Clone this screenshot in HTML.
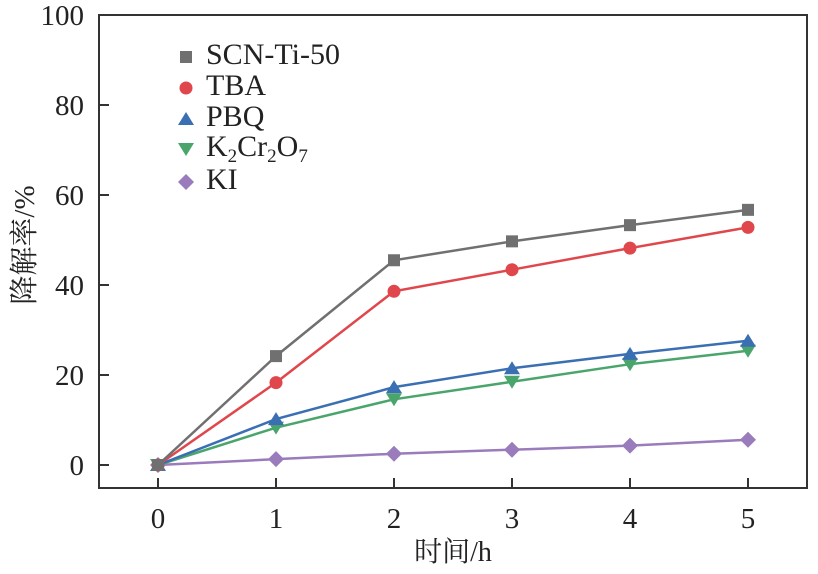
<!DOCTYPE html>
<html><head><meta charset="utf-8"><style>
body{margin:0;background:#fff;}
svg text{font-family:"Liberation Serif","Noto Serif CJK SC",serif;fill:#222;}
</style></head><body>
<svg width="818" height="569" xmlns="http://www.w3.org/2000/svg">
<g id="plot"></g>
</svg>
<script>
const categories=[0,1,2,3,4,5];
const yTicks=[0,20,40,60,80,100];
const scnValues=[0,24.2,45.5,49.7,53.3,56.7];
const tbaValues=[0,18.3,38.6,43.4,48.2,52.8];
const pbqValues=[0,10.2,17.3,21.5,24.7,27.6];
const k2cr2o7Values=[0,8.3,14.6,18.5,22.4,25.4];
const kiValues=[0,1.3,2.5,3.4,4.3,5.6];
const NS="http://www.w3.org/2000/svg";
const L=99,R=807,T=15,B=488;
const xs=v=>158+v*118;
const ys=v=>465-v*4.5;
const g=document.getElementById('plot');
function mk(tag,attrs,parent){const e=document.createElementNS(NS,tag);for(const k in attrs)e.setAttribute(k,attrs[k]);(parent||g).appendChild(e);return e;}
const frame=mk('rect',{x:L,y:T,width:R-L,height:B-T,fill:'none',stroke:'#333','stroke-width':2});


categories.forEach(c=>{
 const t=mk('line',{x1:xs(c),x2:xs(c),y1:B,y2:B-10,stroke:'#333','stroke-width':2});
 
 
 const l=mk('text',{x:xs(c),y:528,'text-anchor':'middle','font-size':29});
 l.textContent=c;
 
 
});
yTicks.forEach(v=>{
 const t=mk('line',{x1:L,x2:L+10,y1:ys(v),y2:ys(v),stroke:'#333','stroke-width':2});
 
 
 const l=mk('text',{x:84,y:ys(v)+10,'text-anchor':'end','font-size':29});
 l.textContent=v;
 
 
});
const xt=mk('text',{x:453,y:561,'text-anchor':'middle','font-size':28});
xt.textContent='时间/h';


const yt=mk('text',{x:0,y:0,'text-anchor':'middle','font-size':29,transform:'translate(34,245) rotate(-90)'});
yt.textContent='降解率/%';



function marker(shape,x,y,color,parent){
 let e;
 if(shape==='square')e=mk('rect',{x:x-6,y:y-6,width:12,height:12,fill:color},parent);
 else if(shape==='circle')e=mk('circle',{cx:x,cy:y,r:6.5,fill:color},parent);
 else if(shape==='up')e=mk('polygon',{points:`${x-8},${y+6} ${x+8},${y+6} ${x},${y-7}`,fill:color},parent);
 else if(shape==='down')e=mk('polygon',{points:`${x-8},${y-6} ${x+8},${y-6} ${x},${y+7}`,fill:color},parent);
 else e=mk('polygon',{points:`${x},${y-8} ${x+8},${y} ${x},${y+8} ${x-8},${y}`,fill:color},parent);
 return e;
}
const series=[
 {name:'KI',vals:kiValues,color:'#9a7bbb',shape:'diamond',id:'ki'},
 {name:'K2Cr2O7',vals:k2cr2o7Values,color:'#4aa56c',shape:'down',id:'k2cr2o7'},
 {name:'PBQ',vals:pbqValues,color:'#3a6fb3',shape:'up',id:'pbq'},
 {name:'TBA',vals:tbaValues,color:'#e0474c',shape:'circle',id:'tba'},
 {name:'SCN-Ti-50',vals:scnValues,color:'#707070',shape:'square',id:'scn-ti-50'}
];
series.forEach(s=>{
 const grp=mk('g',{});
 
 
 const pl=mk('polyline',{points:s.vals.map((v,i)=>xs(categories[i])+','+ys(v)).join(' '),fill:'none',stroke:s.color,'stroke-width':2.5},grp);
 
 
 s.vals.forEach((v,i)=>{
  const m=marker(s.shape,xs(categories[i]),ys(v),s.color,grp);
  
  
 });
});
const leg=mk('g',{});


const legRows=[
 {shape:'square',color:'#707070',y:55,html:'SCN-Ti-50',id:'scn-ti-50'},
 {shape:'circle',color:'#e0474c',y:86,html:'TBA',id:'tba'},
 {shape:'up',color:'#3a6fb3',y:117,html:'PBQ',id:'pbq'},
 {shape:'down',color:'#4aa56c',y:147,html:null,id:'k2cr2o7'},
 {shape:'diamond',color:'#9a7bbb',y:180,html:'KI',id:'ki'}
];
legRows.forEach(r=>{
 const e=mk('g',{},leg);
 
 
 marker(r.shape,186,r.y+2,r.color,e);
 const t=mk('text',{x:206,y:r.y+9,'font-size':30},e);
 if(r.html)t.textContent=r.html;
 else{
  t.appendChild(document.createTextNode('K'));
  const s1=mk('tspan',{dy:6,'font-size':19},t);s1.textContent='2';
  const s2=mk('tspan',{dy:-6},t);s2.textContent='Cr';
  const s3=mk('tspan',{dy:6,'font-size':19},t);s3.textContent='2';
  const s4=mk('tspan',{dy:-6},t);s4.textContent='O';
  const s5=mk('tspan',{dy:6,'font-size':19},t);s5.textContent='7';
 }
});
</script>
</body></html>
